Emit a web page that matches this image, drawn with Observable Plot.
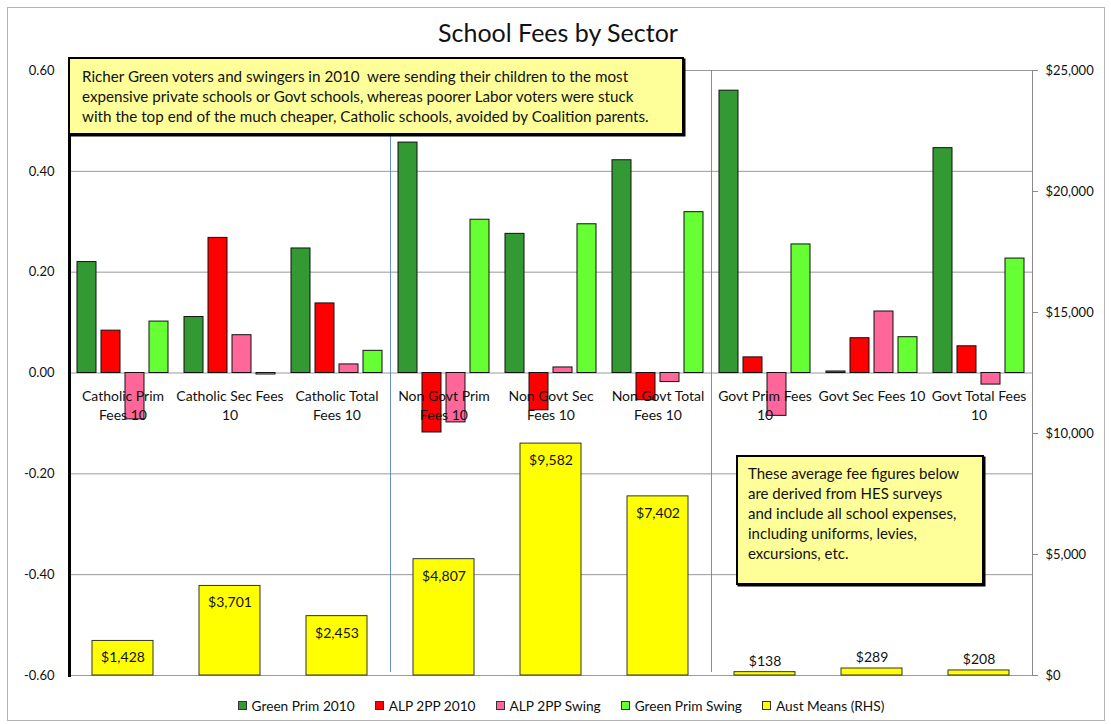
<!DOCTYPE html>
<html>
<head>
<meta charset="utf-8">
<script src="https://cdn.jsdelivr.net/npm/d3@7"></script>
<script src="https://cdn.jsdelivr.net/npm/@observablehq/plot@0.6"></script>
<style>
  html, body { margin: 0; padding: 0; background: #fff; }
  body { position: relative; width: 1111px; height: 724px; overflow: hidden; font-family: Lato, "Liberation Sans", sans-serif; color: #111; }
  #border { position: absolute; left: 7px; top: 7px; width: 1098px; height: 714px; border: 1.5px solid #b4b4b4; box-sizing: border-box; }
  #title { position: absolute; top: 17px; left: 0; width: 1116px; text-align: center; font-size: 25px; color: #111; }
  #chart { position: absolute; left: 0; top: 58px; }
  .note { position: absolute; background: #ffff99; border: 2.5px solid #000; box-shadow: 1.5px 1.5px 0 #000; box-sizing: border-box; font-size: 15.2px; line-height: 20px; white-space: nowrap; color: #111; }
  #note1 { left: 68px; top: 57px; width: 616px; height: 78px; padding: 7px 0 0 12px; }
  #note2 { left: 736px; top: 455px; width: 248px; height: 130px; padding: 6px 0 0 10px; font-size: 15px; }
  #legend { position: absolute; top: 697px; left: 0; width: 1122px; display: flex; justify-content: center; font-size: 13.7px; color: #111; }
  .item { display: flex; align-items: center; margin: 0 10px; }
  .sw { width: 7px; height: 7px; border: 1px solid #333; margin-right: 5px; }
</style>
</head>
<body>
<div id="border"></div>
<div id="title">School Fees by Sector</div>
<div id="chart"></div>
<div class="note" id="note1">Richer Green voters and swingers in 2010&nbsp; were sending their children to the most<br>expensive private schools or Govt schools, whereas poorer Labor voters were stuck<br>with the top end of the much cheaper, Catholic schools, avoided by Coalition parents.</div>
<div class="note" id="note2">These average fee figures below<br>are derived from HES surveys<br>and include all school expenses,<br>including uniforms, levies,<br>excursions, etc.</div>
<div id="legend"></div>
<script>
// ---- data ----
const categories = ["Catholic Prim Fees 10", "Catholic Sec Fees 10", "Catholic Total Fees 10",
  "Non Govt Prim Fees 10", "Non Govt Sec Fees 10", "Non Govt Total Fees 10",
  "Govt Prim Fees 10", "Govt Sec Fees 10", "Govt Total Fees 10"];
const categoryLabels = ["Catholic Prim\nFees 10", "Catholic Sec Fees\n10", "Catholic Total\nFees 10",
  "Non Govt Prim\nFees 10", "Non Govt Sec\nFees 10", "Non Govt Total\nFees 10",
  "Govt Prim Fees\n10", "Govt Sec Fees 10", "Govt Total Fees\n10"];
const seriesNames = ["Green Prim 2010", "ALP 2PP 2010", "ALP 2PP Swing", "Green Prim Swing"];
const greenPrim2010  = [0.220, 0.111, 0.247, 0.457, 0.276, 0.422, 0.560, 0.003, 0.446];
const alp2pp2010     = [0.084, 0.268, 0.138, -0.118, -0.074, -0.054, 0.031, 0.069, 0.053];
const alp2ppSwing    = [-0.092, 0.075, 0.017, -0.098, 0.011, -0.018, -0.085, 0.122, -0.023];
const greenPrimSwing = [0.102, -0.003, 0.044, 0.304, 0.295, 0.319, 0.255, 0.071, 0.227];
const austMeansName = "Aust Means (RHS)";
const austMeans = [1428, 3701, 2453, 4807, 9582, 7402, 138, 289, 208];
const sectorStarts = ["Non Govt Prim Fees 10", "Govt Prim Fees 10"];
const leftTicks = [-0.6, -0.4, -0.2, 0, 0.2, 0.4, 0.6];
const rightTicks = [0, 5000, 10000, 15000, 20000, 25000];
const seriesColors = ["#339933", "#ff0000", "#ff6699", "#66ff33"];
const meanColor = "#ffff00";

// ---- tables ----
const seriesValues = [greenPrim2010, alp2pp2010, alp2ppSwing, greenPrimSwing];
const bars = [];
categories.forEach((c, i) => seriesNames.forEach((s, j) => bars.push({cat: c, series: s, value: seriesValues[j][i]})));
const means = categories.map((c, i) => ({cat: c, mean: austMeans[i], label: categoryLabels[i]}));
const separators = sectorStarts.map(c => ({cat: c}));

// secondary (RHS) axis: $0..$25,000 mapped onto the left domain -0.6..0.6
const leftDomain = [-0.6, 0.6];
const rightDomain = [0, 25000];
const toLeft = v => leftDomain[0] + (v - rightDomain[0]) / (rightDomain[1] - rightDomain[0]) * (leftDomain[1] - leftDomain[0]);

const W = 1111, H = 632, ML = 69, MR = 79, MT = 12, MB = 15;
const step = (W - ML - MR) / categories.length;
const money = d3.format(",");

const plot = Plot.plot({
  width: W, height: H,
  marginLeft: ML, marginRight: MR, marginTop: MT, marginBottom: MB,
  style: {fontFamily: "Lato, 'Liberation Sans', sans-serif", fontSize: "13px", color: "#111", background: "transparent"},
  fx: {domain: categories, paddingInner: 0, paddingOuter: 0, axis: null, label: null},
  x: {domain: seriesNames, paddingInner: 0.19, paddingOuter: 0.31, axis: null},
  y: {domain: leftDomain, axis: null},
  color: {domain: seriesNames, range: seriesColors},
  marks: [
    Plot.gridY(leftTicks, {stroke: "#9a9a9a", strokeOpacity: 1, strokeWidth: 1}),
    Plot.rect(separators, {fx: "cat", fill: "#4f7fc8", fillOpacity: 0.85, insetRight: step - 1, insetBottom: 3}),
    Plot.barY(means, {fx: "cat", y1: () => leftDomain[0], y2: d => toLeft(d.mean), fill: meanColor, stroke: "#333", strokeWidth: 1, insetLeft: 23, insetRight: 23}),
    Plot.barY(bars, {fx: "cat", x: "series", y1: () => 0, y2: "value", fill: "series", stroke: "#111", strokeWidth: 1}),
    Plot.text(means.filter(d => d.mean >= 1000), {fx: "cat", y: d => toLeft(d.mean), text: d => "$" + money(d.mean), dy: 17, fontSize: 14, fill: "#111"}),
    Plot.text(means.filter(d => d.mean < 1000), {fx: "cat", y: d => toLeft(d.mean), text: d => "$" + money(d.mean), dy: -11, fontSize: 14, fill: "#111"}),
    Plot.text(means, {fx: "cat", y: () => 0, text: "label", lineAnchor: "top", dy: 14, lineHeight: 1.36, fontSize: 14, fill: "#111"}),
    Plot.frame({anchor: "left", facetAnchor: "left", stroke: "#000", strokeWidth: 3}),
    Plot.frame({anchor: "right", facetAnchor: "right", stroke: "#8a8a8a", strokeWidth: 1}),
    Plot.axisY({anchor: "left", label: null, ticks: leftTicks, tickFormat: d => d.toFixed(2), tickSize: 0, tickPadding: 15, fontSize: 13}),
    Plot.axisY({anchor: "right", label: null, ticks: rightTicks.map(toLeft), tickFormat: (d, i) => "$" + money(rightTicks[i]), tickSize: 5, tickPadding: 8, stroke: "#8a8a8a", fontSize: 13})
  ]
});
document.getElementById("chart").appendChild(plot);

// legend
const legend = document.getElementById("legend");
[...seriesNames.map((s, i) => [s, seriesColors[i]]), [austMeansName, meanColor]].forEach(([name, col]) => {
  const it = document.createElement("div");
  it.className = "item";
  it.innerHTML = `<span class="sw" style="background:${col}"></span><span>${name}</span>`;
  legend.appendChild(it);
});
</script>
</body>
</html>
